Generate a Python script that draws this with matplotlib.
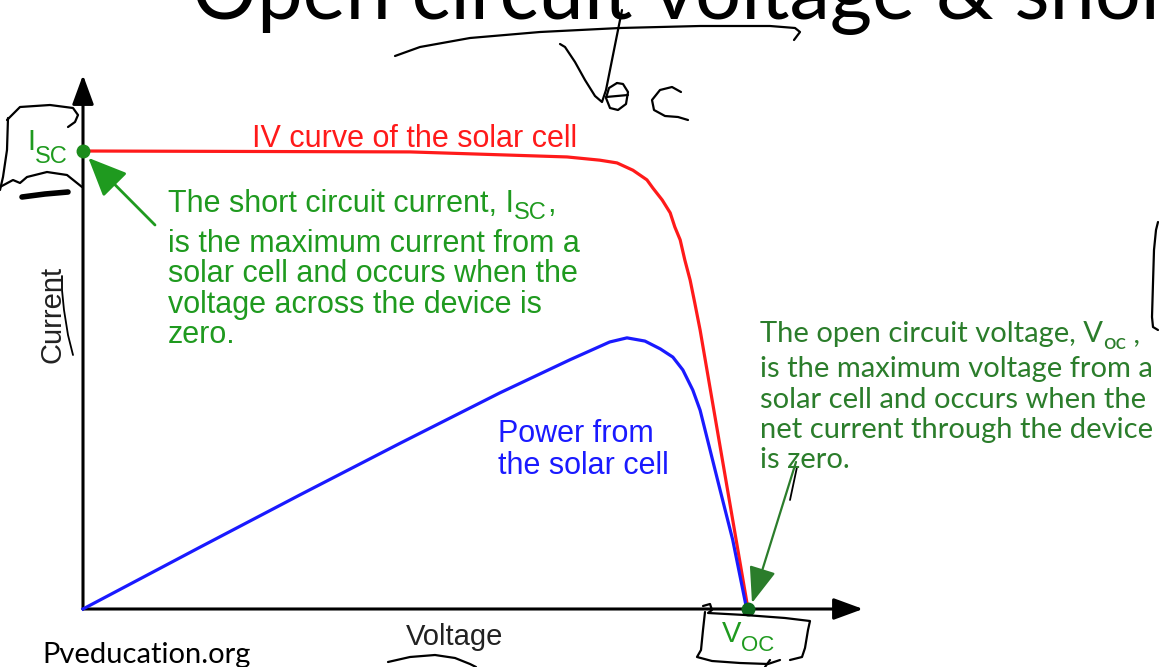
import matplotlib
matplotlib.use("Agg")
import matplotlib.pyplot as plt
from matplotlib.lines import Line2D

W, H = 1159, 667

# IV curve, voltage as fraction of Voc, current as fraction of Isc
iv_voltage = [0.0, 0.492, 0.728, 0.777, 0.803, 0.827, 0.848, 0.857, 0.871, 0.883,
              0.890, 0.898, 0.905, 0.913, 0.920, 0.928, 1.0]
iv_current = [1.0, 0.998, 0.987, 0.980, 0.974, 0.958, 0.937, 0.919, 0.893, 0.865,
              0.834, 0.806, 0.762, 0.718, 0.668, 0.609, 0.0]

# Power curve (same voltage scale, drawn on the current scale)
pw_voltage = [0.0, 0.176, 0.326, 0.477, 0.627, 0.732, 0.792, 0.818, 0.845, 0.868,
              0.887, 0.902, 0.917, 0.928, 0.943, 0.958, 0.977, 0.998]
pw_power = [0.0, 0.135, 0.249, 0.362, 0.472, 0.544, 0.583, 0.592, 0.585, 0.568,
            0.550, 0.522, 0.478, 0.434, 0.347, 0.260, 0.151, 0.0]

isc_v, isc_i = 0.0, 1.0
voc_v, voc_i = 1.0, 0.0

left_lines = ["is the maximum current from a",
              "solar cell and occurs when the",
              "voltage across the device is",
              "zero."]
right_lines = ["is the maximum voltage from a",
               "solar cell and occurs when the",
               "net current through the device",
               "is zero."]

GREEN = "#1f9a1f"
DKGREEN = "#2b7d2b"

fig = plt.figure(figsize=(W / 100, H / 100), dpi=100)
fig.patch.set_facecolor("white")
ax = fig.add_axes([0, 0, 1, 1])
# origin at pixel (83, 609); Voc at x=748, Isc at y=151
ax.set_xlim(-83 / 665, (W - 83) / 665)
ax.set_ylim(-(H - 609) / 458, 609 / 458)
ax.axis("off")

renderer = fig.canvas.get_renderer()


def fp(x, y):
    # pixel (from top-left) to figure fraction
    return x / W, 1 - y / H


def text_run(x, y, pieces, color, family):
    # pieces: (text, fontsize, drop in px) drawn one after another on a baseline
    for s, size, drop in pieces:
        t = fig.text(*fp(x, y + drop), s, fontsize=size, color=color,
                     family=family, va="baseline", ha="left")
        x += t.get_window_extent(renderer).width


def ink(points, lw=1.6):
    xs = [p[0] / W for p in points]
    ys = [1 - p[1] / H for p in points]
    fig.add_artist(Line2D(xs, ys, color="black", lw=lw,
                          solid_capstyle="round", solid_joinstyle="round"))


# axes with arrow heads
ax_arrow = dict(arrowstyle="-|>,head_length=0.6,head_width=0.22", color="black",
                lw=2.2, mutation_scale=30, shrinkA=0, shrinkB=0)
ax.annotate("", xy=(1.173, 0), xytext=(0, 0), arrowprops=ax_arrow, zorder=2)
ax.annotate("", xy=(0, 1.166), xytext=(0, 0), arrowprops=ax_arrow, zorder=2)

# curves
ax.plot(iv_voltage, iv_current, color="#ff1a1a", lw=2.3, zorder=3,
        solid_joinstyle="round")
ax.plot(pw_voltage, pw_power, color="#1a1aff", lw=2.3, zorder=3,
        solid_joinstyle="round")

# Isc / Voc points
ax.plot([isc_v], [isc_i], "o", color="#1c8c1c", ms=9, zorder=5)
ax.plot([voc_v], [voc_i], "o", color="#0f6a1f", ms=9, zorder=5)

# green pointer arrows
ax.annotate("", xy=(isc_v + 0.008, isc_i - 0.015), xytext=((155 - 83) / 665, (609 - 225) / 458),
            arrowprops=dict(arrowstyle="-|>,head_length=0.8,head_width=0.35", color=GREEN,
                            lw=2, mutation_scale=30, shrinkA=0, shrinkB=0), zorder=4)
ax.annotate("", xy=(voc_v + 0.006, voc_i + 0.013), xytext=((796 - 83) / 665, (609 - 462) / 458),
            arrowprops=dict(arrowstyle="-|>,head_length=0.8,head_width=0.3", color=DKGREEN,
                            lw=1.6, mutation_scale=28, shrinkA=0, shrinkB=0), zorder=4)

# chart text
fig.text(*fp(252, 147), "IV curve of the solar cell", fontsize=22, color="#ff1a1a",
         family="Liberation Sans", va="baseline")
fig.text(*fp(498, 442), "Power from", fontsize=22, color="#1a1aff",
         family="Liberation Sans", va="baseline")
fig.text(*fp(498, 474), "the solar cell", fontsize=22, color="#1a1aff",
         family="Liberation Sans", va="baseline")

text_run(168, 212, [("The short circuit current, I", 22, 0), ("SC", 17, 7), (",", 22, 0)],
         GREEN, "Liberation Sans")
for i, line in enumerate(left_lines):
    fig.text(*fp(168, 252 + i * 30.5), line, fontsize=22, color=GREEN,
             family="Liberation Sans", va="baseline")

text_run(760, 342, [("The open circuit voltage, V", 21, 0), ("oc", 16, 7), (" ,", 21, 0)],
         DKGREEN, "Lato")
for i, line in enumerate(right_lines):
    fig.text(*fp(760, 377 + i * 30.5), line, fontsize=21, color=DKGREEN,
             family="Lato", va="baseline")

text_run(27, 150, [("I", 21, 0), ("SC", 17, 13)], GREEN, "Liberation Sans")
text_run(722, 642, [("V", 21, 0), ("OC", 16, 9)], GREEN, "Liberation Sans")

fig.text(*fp(455, 645), "Voltage", fontsize=21, color="#222222",
         family="Liberation Sans", va="baseline", ha="center")
fig.text(*fp(52, 314), "Current", fontsize=21, color="#222222", rotation=90,
         family="Liberation Sans", va="center", ha="center")

# slide text (title is cut off by the top edge of the screenshot)
fig.text(*fp(42, 663), "Pveducation.org", fontsize=21, color="black",
         family="Lato", va="baseline")
fig.text(*fp(192, 19), "Open circuit voltage & short circuit current", fontsize=58.5,
         color="black", family="Lato", va="baseline")

# handwritten ink
ink([(395, 56), (420, 47), (470, 38), (540, 32), (620, 28), (700, 26), (770, 26),
     (795, 28), (800, 32), (794, 40)])
ink([(560, 44), (565, 47), (575, 62), (585, 80), (595, 96), (602, 102), (606, 90),
     (612, 60), (618, 30), (622, 10)])
ink([(617, 83), (609, 88), (606, 98), (610, 108), (618, 110), (626, 104), (628, 92),
     (623, 84), (617, 83)])
ink([(606, 97), (628, 95)])
ink([(681, 92), (672, 87), (660, 90), (652, 100), (654, 110), (665, 116), (678, 117),
     (688, 120)])
ink([(7, 120), (20, 107), (50, 105), (73, 108), (78, 115), (75, 122), (68, 127)])
ink([(8, 118), (7, 150), (3, 177), (0, 190)])
ink([(0, 187), (13, 180), (20, 183), (27, 177), (47, 172), (67, 175), (82, 187)])
ink([(22, 197), (45, 194), (68, 192)], lw=4)
ink([(73, 355), (68, 335), (64, 310), (62, 290), (62, 276)], lw=1.3)
ink([(703, 606), (710, 604), (712, 610), (708, 613), (745, 615), (785, 618), (810, 621),
     (808, 630), (805, 648), (802, 657), (790, 660)])
ink([(705, 612), (703, 630), (701, 650), (697, 657), (712, 661), (740, 663), (768, 664),
     (780, 660)])
ink([(770, 660), (765, 667)])
ink([(1158, 222), (1156, 230), (1154, 250), (1153, 283), (1152, 317), (1153, 327),
     (1158, 330)])
ink([(388, 662), (410, 657), (435, 655), (455, 658), (470, 664), (476, 667)])
ink([(797, 467), (790, 500)], lw=1.3)

fig.savefig("out.png", dpi=100, facecolor="white")
